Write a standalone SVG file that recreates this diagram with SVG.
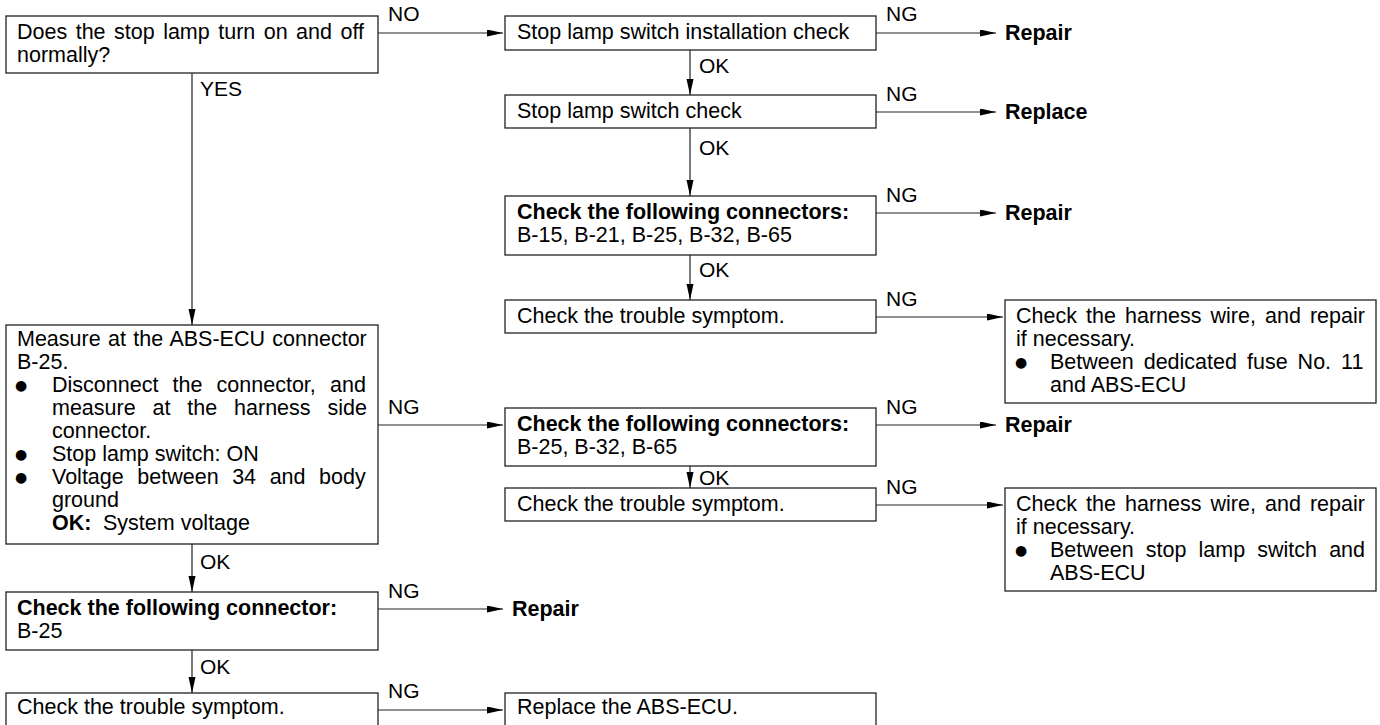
<svg xmlns="http://www.w3.org/2000/svg" width="1380" height="725" viewBox="0 0 1380 725">
<style>
.t{font-family:"Liberation Sans",Arial,sans-serif;font-size:21.5px;fill:#000}
.b{font-weight:bold}
.lbl{font-family:"Liberation Sans",Arial,sans-serif;font-size:21px;fill:#000}
.bul{font-family:"DejaVu Sans",sans-serif;font-size:14px;fill:#000}
.box{fill:#fff;stroke:#222;stroke-width:1.3}
.ln{stroke:#222;stroke-width:1.2;fill:none}
</style>
<defs>
<marker id="ah" markerUnits="userSpaceOnUse" markerWidth="16" markerHeight="8" refX="16" refY="3.5" orient="auto">
<path d="M0,0 L16,3.5 L0,7 z" fill="#000"/>
</marker>
</defs>
<rect width="1380" height="725" fill="#fff"/>

<g id="connectors">
<line class="ln" x1="378" y1="33" x2="503" y2="33" marker-end="url(#ah)"/>
<line class="ln" x1="192" y1="73" x2="192" y2="325" marker-end="url(#ah)"/>
<line class="ln" x1="876" y1="33" x2="996" y2="33" marker-end="url(#ah)"/>
<line class="ln" x1="690" y1="50" x2="690" y2="95" marker-end="url(#ah)"/>
<line class="ln" x1="876" y1="112" x2="996" y2="112" marker-end="url(#ah)"/>
<line class="ln" x1="690" y1="128" x2="690" y2="196" marker-end="url(#ah)"/>
<line class="ln" x1="876" y1="213" x2="996" y2="213" marker-end="url(#ah)"/>
<line class="ln" x1="690" y1="255" x2="690" y2="300" marker-end="url(#ah)"/>
<line class="ln" x1="876" y1="317" x2="1003" y2="317" marker-end="url(#ah)"/>
<line class="ln" x1="378" y1="425" x2="503" y2="425" marker-end="url(#ah)"/>
<line class="ln" x1="876" y1="425" x2="996" y2="425" marker-end="url(#ah)"/>
<line class="ln" x1="690" y1="466" x2="690" y2="488" marker-end="url(#ah)"/>
<line class="ln" x1="876" y1="505" x2="1003" y2="505" marker-end="url(#ah)"/>
<line class="ln" x1="192" y1="544" x2="192" y2="592" marker-end="url(#ah)"/>
<line class="ln" x1="378" y1="609" x2="503" y2="609" marker-end="url(#ah)"/>
<line class="ln" x1="192" y1="650" x2="192" y2="693" marker-end="url(#ah)"/>
<line class="ln" x1="378" y1="710" x2="503" y2="710" marker-end="url(#ah)"/>
<text class="lbl" x="388" y="21">NO</text>
<text class="lbl" x="200" y="96">YES</text>
<text class="lbl" x="886" y="21">NG</text>
<text class="lbl" x="699" y="73">OK</text>
<text class="lbl" x="886" y="101">NG</text>
<text class="lbl" x="699" y="155">OK</text>
<text class="lbl" x="886" y="202">NG</text>
<text class="lbl" x="699" y="277">OK</text>
<text class="lbl" x="886" y="306">NG</text>
<text class="lbl" x="388" y="414">NG</text>
<text class="lbl" x="886" y="414">NG</text>
<text class="lbl" x="699" y="485">OK</text>
<text class="lbl" x="886" y="494">NG</text>
<text class="lbl" x="200" y="569">OK</text>
<text class="lbl" x="388" y="598">NG</text>
<text class="lbl" x="200" y="674">OK</text>
<text class="lbl" x="388" y="698">NG</text>
</g>

<g id="q1">
<rect class="box" x="6" y="16" width="372" height="57"/>
<text class="t" x="17" y="39" word-spacing="2.5">Does the stop lamp turn on and off</text>
<text class="t" x="17" y="62">normally?</text>
</g>

<g id="install">
<rect class="box" x="505" y="16" width="371" height="34"/>
<text class="t" x="517" y="39">Stop lamp switch installation check</text>
</g>
<g id="repair1"><text class="t b" x="1005" y="40">Repair</text></g>

<g id="switch">
<rect class="box" x="505" y="95" width="371" height="33"/>
<text class="t" x="517" y="118">Stop lamp switch check</text>
</g>
<g id="replace1"><text class="t b" x="1005" y="119">Replace</text></g>

<g id="conn1">
<rect class="box" x="505" y="196" width="371" height="59"/>
<text class="t b" x="517" y="219">Check the following connectors:</text>
<text class="t" x="517" y="242">B-15, B-21, B-25, B-32, B-65</text>
</g>
<g id="repair2"><text class="t b" x="1005" y="220">Repair</text></g>

<g id="trouble1">
<rect class="box" x="505" y="300" width="371" height="33"/>
<text class="t" x="517" y="323">Check the trouble symptom.</text>
</g>

<g id="harness1">
<rect class="box" x="1005" y="300" width="371" height="103"/>
<text class="t" x="1016" y="323" word-spacing="3.1">Check the harness wire, and repair</text>
<text class="t" x="1016" y="346">if necessary.</text>
<text class="bul" x="1021" y="367" text-anchor="middle">●</text>
<text class="t" x="1050" y="369" word-spacing="4.05">Between dedicated fuse No. 11</text>
<text class="t" x="1050" y="392">and ABS-ECU</text>
</g>

<g id="measure">
<rect class="box" x="6" y="325" width="372" height="219"/>
<text class="t" x="17" y="346" word-spacing="1.4">Measure at the ABS-ECU connector</text>
<text class="t" x="17" y="369">B-25.</text>
<text class="bul" x="21" y="390" text-anchor="middle">●</text>
<text class="t" x="52" y="392" word-spacing="8.2">Disconnect the connector, and</text>
<text class="t" x="52" y="415" word-spacing="10.9">measure at the harness side</text>
<text class="t" x="52" y="438">connector.</text>
<text class="bul" x="21" y="459" text-anchor="middle">●</text>
<text class="t" x="52" y="461">Stop lamp switch: ON</text>
<text class="bul" x="21" y="482" text-anchor="middle">●</text>
<text class="t" x="52" y="484" word-spacing="7.6">Voltage between 34 and body</text>
<text class="t" x="52" y="507">ground</text>
<text class="t" x="52" y="530"><tspan class="b">OK:</tspan><tspan x="103">System voltage</tspan></text>
</g>

<g id="conn2">
<rect class="box" x="505" y="408" width="371" height="58"/>
<text class="t b" x="517" y="431">Check the following connectors:</text>
<text class="t" x="517" y="454">B-25, B-32, B-65</text>
</g>
<g id="repair3"><text class="t b" x="1005" y="432">Repair</text></g>

<g id="trouble2">
<rect class="box" x="505" y="488" width="371" height="33"/>
<text class="t" x="517" y="511">Check the trouble symptom.</text>
</g>

<g id="harness2">
<rect class="box" x="1005" y="488" width="371" height="103"/>
<text class="t" x="1016" y="511" word-spacing="3.1">Check the harness wire, and repair</text>
<text class="t" x="1016" y="534">if necessary.</text>
<text class="bul" x="1021" y="555" text-anchor="middle">●</text>
<text class="t" x="1050" y="557" word-spacing="6.15">Between stop lamp switch and</text>
<text class="t" x="1050" y="580">ABS-ECU</text>
</g>

<g id="conn3">
<rect class="box" x="6" y="592" width="372" height="58"/>
<text class="t b" x="17" y="615">Check the following connector:</text>
<text class="t" x="17" y="638">B-25</text>
</g>
<g id="repair4"><text class="t b" x="512" y="616">Repair</text></g>

<g id="trouble3">
<rect class="box" x="6" y="693" width="372" height="50"/>
<text class="t" x="17" y="714">Check the trouble symptom.</text>
</g>

<g id="replaceecu">
<rect class="box" x="505" y="693" width="371" height="50"/>
<text class="t" x="517" y="714">Replace the ABS-ECU.</text>
</g>
</svg>
